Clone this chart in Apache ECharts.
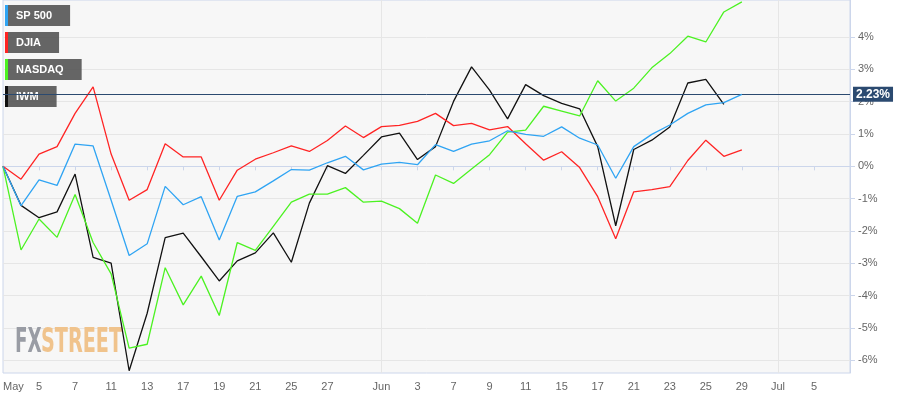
<!DOCTYPE html>
<html>
<head>
<meta charset="utf-8">
<script src="https://cdn.jsdelivr.net/npm/echarts@6/dist/echarts.min.js"></script>
<style>
  html, body { margin: 0; padding: 0; background: #fff; }
  #chart { width: 921px; height: 399px; }
</style>
</head>
<body>
<div id="chart"></div>
<script>
// one slot per trading day, label only where the reference shows one
const tickLabels = [
  'May', '', '5', '', '7', '', '11', '', '13', '', '17', '', '19', '', '21', '', '25', '', '27', '', '',
  'Jun', '', '3', '', '7', '', '9', '', '11', '', '15', '', '17', '', '21', '', '23', '', '25', '', '29',
  '', 'Jul', '', '5', '', ''
];
const days = tickLabels.map((t, i) => 'd' + i);
const yTicks = [-6, -5, -4, -3, -2, -1, 0, 1, 2, 3, 4];

const sp500 = [0, -1.22, -0.42, -0.59, 0.69, 0.63, -1.05, -2.76, -2.40, -0.62, -1.19, -0.94, -2.28, -0.93,
  -0.79, -0.45, -0.10, -0.12, 0.11, 0.31, -0.11, 0.07, 0.12, 0.05, 0.67, 0.46, 0.69, 0.79, 1.10, 0.99,
  0.93, 1.22, 0.87, 0.66, -0.37, 0.61, 0.99, 1.28, 1.64, 1.90, 1.97, 2.23];
const djia = [0, -0.40, 0.38, 0.61, 1.64, 2.46, 0.38, -1.05, -0.72, 0.70, 0.29, 0.29, -1.05, -0.12,
  0.22, 0.42, 0.63, 0.46, 0.80, 1.25, 0.89, 1.23, 1.27, 1.39, 1.64, 1.26, 1.33, 1.13, 1.23, 0.70,
  0.19, 0.45, -0.04, -0.94, -2.24, -0.79, -0.72, -0.63, 0.18, 0.81, 0.31, 0.51];
const nasdaq = [0, -2.59, -1.63, -2.20, -0.87, -2.36, -3.33, -5.63, -5.51, -3.14, -4.29, -3.40, -4.62, -2.36,
  -2.60, -1.86, -1.11, -0.86, -0.86, -0.66, -1.11, -1.08, -1.31, -1.76, -0.27, -0.53, -0.08, 0.36, 1.06, 1.12,
  1.86, 1.71, 1.56, 2.65, 2.02, 2.42, 3.05, 3.49, 4.03, 3.85, 4.78, 5.09];
const iwm = [0, -1.21, -1.59, -1.41, -0.24, -2.82, -3.00, -6.33, -4.55, -2.21, -2.07, -2.80, -3.55, -2.93,
  -2.68, -2.06, -2.97, -1.14, 0.02, -0.22, 0.34, 0.91, 1.03, 0.21, 0.61, 2.01, 3.08, 2.36, 1.47, 2.53,
  2.19, 1.95, 1.78, 0.61, -1.84, 0.52, 0.81, 1.22, 2.58, 2.69, 1.92];

const lastValue = 2.23;

const seriesNames = ['SP 500', 'DJIA', 'NASDAQ', 'IWM'];
const seriesData = [sp500, djia, nasdaq, iwm];
const seriesColors = ['#2fa4f3', '#ff2424', '#4cf222', '#111111'];

const chart = echarts.init(document.getElementById('chart'));

const legends = seriesNames.map((name, i) => ({
  data: [name],
  left: 5,
  top: 5 + i * 27,
  orient: 'vertical',
  selectedMode: false,
  icon: 'rect',
  itemWidth: 3,
  itemHeight: 21,
  padding: [0, 18, 0, 0],
  backgroundColor: 'rgba(88,88,88,0.92)',
  textStyle: {
    color: '#fff',
    fontWeight: 'bold',
    fontSize: 11,
    fontFamily: 'Liberation Sans, Arial, sans-serif',
    padding: [0, 0, 0, 3]
  }
}));

const series = seriesNames.map((name, i) => {
  const s = {
    name: name,
    type: 'line',
    data: seriesData[i],
    showSymbol: false,
    symbol: 'none',
    itemStyle: { color: seriesColors[i] },
    lineStyle: { color: seriesColors[i], width: 1.3 },
    z: 2 + (3 - i)
  };
  if (i === 0) {
    s.markLine = {
      silent: true,
      symbol: 'none',
      lineStyle: { color: '#2b4a70', width: 1, type: 'solid' },
      label: {
        position: 'end',
        distance: 3,
        formatter: lastValue.toFixed(2) + '%',
        color: '#fff',
        fontWeight: 'bold',
        fontSize: 12,
        fontFamily: 'Liberation Sans, Arial, sans-serif',
        backgroundColor: '#2b4a70',
        padding: [2, 3, 1, 3]
      },
      data: [{ yAxis: lastValue }]
    };
  }
  return s;
});

chart.setOption({
  animation: false,
  backgroundColor: '#fff',
  textStyle: { fontFamily: 'Liberation Sans, Arial, sans-serif' },
  grid: {
    left: 1, right: 71, top: 0, bottom: 26,
    show: true,
    backgroundColor: '#f7f7f7',
    borderColor: '#ccd6eb',
    borderWidth: 1
  },
  legend: legends,
  graphic: [
    {
      type: 'text', x: 15, y: 343, scaleX: 0.54, z: 1, silent: true,
      style: { text: 'FX', fill: '#999ca4', font: 'bold 34px "DejaVu Sans"', verticalAlign: 'middle' }
    },
    {
      type: 'text', x: 41, y: 343, scaleX: 0.565, z: 1, silent: true,
      style: { text: 'STREET', fill: '#f0c38c', font: 'bold 34px "DejaVu Sans"', verticalAlign: 'middle' }
    }
  ],
  xAxis: {
    type: 'category',
    data: days,
    boundaryGap: false,
    axisLine: { lineStyle: { color: '#ccd6eb' } },
    axisTick: {
      interval: (idx) => tickLabels[idx] !== '',
      length: 4,
      lineStyle: { color: '#ccd6eb' }
    },
    axisLabel: {
      interval: (idx) => tickLabels[idx] !== '',
      formatter: (v, idx) => tickLabels[idx],
      color: '#666',
      fontSize: 11,
      margin: 8,
      alignMinLabel: 'left'
    },
    splitLine: {
      show: true,
      interval: (idx) => tickLabels[idx] === 'Jun' || tickLabels[idx] === 'Jul',
      lineStyle: { color: '#e6e6e6' }
    }
  },
  yAxis: {
    type: 'value',
    position: 'right',
    min: -6.4,
    max: 5.15,
    splitNumber: 11,
    minInterval: 1,
    maxInterval: 1,
    axisLine: { show: true, lineStyle: { color: '#ccd6eb' } },
    axisTick: { show: true, length: 5, customValues: yTicks, lineStyle: { color: '#ccd6eb' } },
    axisLabel: {
      customValues: yTicks,
      formatter: (v) => v + '%',
      color: '#666',
      fontSize: 11,
      margin: 8
    },
    splitLine: { lineStyle: { color: '#e6e6e6' } }
  },
  series: series
});
</script>
</body>
</html>
